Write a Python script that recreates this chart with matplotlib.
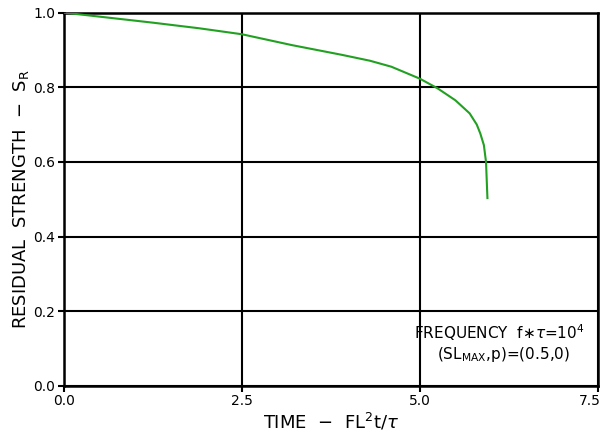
import matplotlib.pyplot as plt
import matplotlib.transforms as mtransforms
import numpy as np

# residual strength curve
time_vals = [0.0, 0.6, 1.25, 1.9, 2.5, 3.2, 3.9, 4.3, 4.6, 5.0, 5.25, 5.5, 5.7, 5.8,
             5.85, 5.9, 5.93, 5.95]
strength_vals = [1.0, 0.987, 0.973, 0.958, 0.942, 0.913, 0.887, 0.871, 0.855, 0.823,
                 0.797, 0.765, 0.730, 0.700, 0.676, 0.645, 0.600, 0.503]

x_ticks = [0.0, 2.5, 5.0, 7.5]
y_ticks = [0.0, 0.2, 0.4, 0.6, 0.8, 1.0]

plt.rcParams['font.family'] = ['DejaVu Sans']
plt.rcParams['mathtext.fontset'] = 'dejavusans'

fig = plt.figure(figsize=(6.02, 4.34), dpi=100)
ax = fig.add_axes([0.106, 0.111, 0.887, 0.860])

ax.plot(time_vals, strength_vals, color='#22a022', lw=1.5, zorder=3)

ax.set_xlim(0, 7.5)
ax.set_ylim(0, 1.0)
ax.set_xticks(x_ticks)
ax.set_yticks(y_ticks)
ax.set_xticklabels(['%.1f' % v for v in x_ticks])
ax.set_yticklabels(['%.1f' % v for v in y_ticks])
ax.grid(True, color='black', lw=1.5)
for s in ax.spines.values():
    s.set_linewidth(1.8)
ax.tick_params(direction='out', length=4, width=1.5, labelsize=10, pad=2)

# keep the last x label inside the figure
last = ax.get_xticklabels()[-1]
last.set_transform(last.get_transform() +
                   mtransforms.ScaledTranslation(-6 / 72, 0, fig.dpi_scale_trans))

ax.set_xlabel(r'TIME  $-$  FL$^2$t/$\tau$', fontsize=13, labelpad=2)
ax.set_ylabel(r'RESIDUAL  STRENGTH  $-$  S$_{\mathrm{R}}$', fontsize=13, labelpad=2)

ax.text(0.976, 0.142, r'FREQUENCY  f$\ast\tau$=10$^4$', transform=ax.transAxes,
        ha='right', va='center', fontsize=11)
ax.text(0.948, 0.083, r'(SL$_{\mathrm{MAX}}$,p)=(0.5,0)', transform=ax.transAxes,
        ha='right', va='center', fontsize=11)

fig.savefig('out.png', dpi=100)
